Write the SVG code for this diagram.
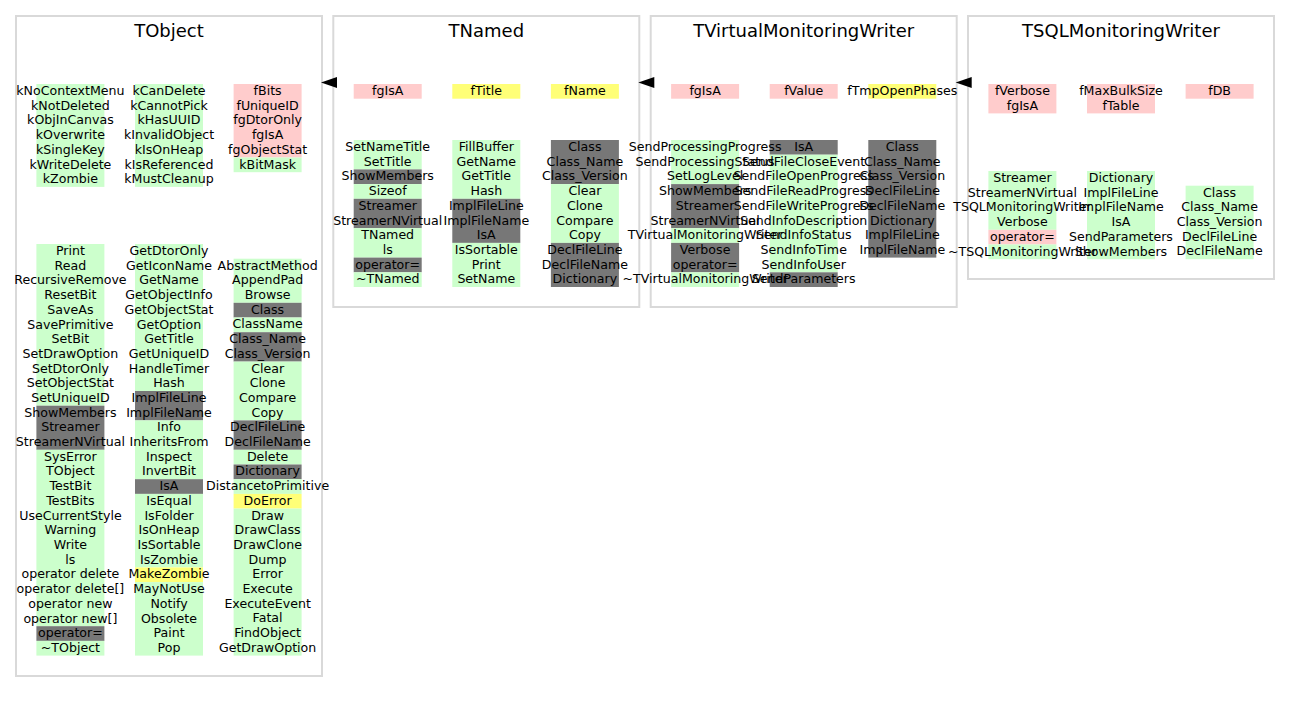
<svg xmlns="http://www.w3.org/2000/svg" width="1291" height="703" viewBox="0 0 1291 703">
<style>
.bg{fill:#ffffff}
.box{fill:#ffffff;stroke:#d9d9d9;stroke-width:2}
.title{font-family:"DejaVu Sans",Verdana,sans-serif;font-size:18px;fill:#000;text-anchor:middle}
.t{font-family:"DejaVu Sans",Verdana,sans-serif;font-size:12.6px;fill:#000;text-anchor:middle}
.g{fill:#ccffcc}
.r{fill:#ffcccc}
.y{fill:#ffff77}
.k{fill:#777777}
.arr{fill:#000}
</style>
<rect class="bg" x="0" y="0" width="1291" height="703"/>

<g id="TObject">
<rect class="box" x="16" y="16" width="306" height="660"/>
<text class="title" x="169" y="37">TObject</text>
<g transform="translate(36.4,84)">
<rect class="g" x="0" y="0" width="68" height="102.9"/>
<text class="t"><tspan x="34" y="11">kNoContextMenu</tspan><tspan x="34" dy="14.7">kNotDeleted</tspan><tspan x="34" dy="14.7">kObjInCanvas</tspan><tspan x="34" dy="14.7">kOverwrite</tspan><tspan x="34" dy="14.7">kSingleKey</tspan><tspan x="34" dy="14.7">kWriteDelete</tspan><tspan x="34" dy="14.7">kZombie</tspan></text>
</g>
<g transform="translate(135,84)">
<rect class="g" x="0" y="0" width="68" height="102.9"/>
<text class="t"><tspan x="34" y="11">kCanDelete</tspan><tspan x="34" dy="14.7">kCannotPick</tspan><tspan x="34" dy="14.7">kHasUUID</tspan><tspan x="34" dy="14.7">kInvalidObject</tspan><tspan x="34" dy="14.7">kIsOnHeap</tspan><tspan x="34" dy="14.7">kIsReferenced</tspan><tspan x="34" dy="14.7">kMustCleanup</tspan></text>
</g>
<g transform="translate(233.6,84)">
<rect class="r" x="0" y="0" width="68" height="73.5"/>
<rect class="g" x="0" y="73.5" width="68" height="14.7"/>
<text class="t"><tspan x="34" y="11">fBits</tspan><tspan x="34" dy="14.7">fUniqueID</tspan><tspan x="34" dy="14.7">fgDtorOnly</tspan><tspan x="34" dy="14.7">fgIsA</tspan><tspan x="34" dy="14.7">fgObjectStat</tspan><tspan x="34" dy="14.7">kBitMask</tspan></text>
</g>
<g transform="translate(36.4,244)">
<rect class="g" x="0" y="0" width="68" height="161.7"/>
<rect class="k" x="0" y="161.7" width="68" height="44.1"/>
<rect class="g" x="0" y="205.8" width="68" height="176.4"/>
<rect class="k" x="0" y="382.2" width="68" height="14.7"/>
<rect class="g" x="0" y="396.9" width="68" height="14.7"/>
<text class="t"><tspan x="34" y="11">Print</tspan><tspan x="34" dy="14.7">Read</tspan><tspan x="34" dy="14.7">RecursiveRemove</tspan><tspan x="34" dy="14.7">ResetBit</tspan><tspan x="34" dy="14.7">SaveAs</tspan><tspan x="34" dy="14.7">SavePrimitive</tspan><tspan x="34" dy="14.7">SetBit</tspan><tspan x="34" dy="14.7">SetDrawOption</tspan><tspan x="34" dy="14.7">SetDtorOnly</tspan><tspan x="34" dy="14.7">SetObjectStat</tspan><tspan x="34" dy="14.7">SetUniqueID</tspan><tspan x="34" dy="14.7">ShowMembers</tspan><tspan x="34" dy="14.7">Streamer</tspan><tspan x="34" dy="14.7">StreamerNVirtual</tspan><tspan x="34" dy="14.7">SysError</tspan><tspan x="34" dy="14.7">TObject</tspan><tspan x="34" dy="14.7">TestBit</tspan><tspan x="34" dy="14.7">TestBits</tspan><tspan x="34" dy="14.7">UseCurrentStyle</tspan><tspan x="34" dy="14.7">Warning</tspan><tspan x="34" dy="14.7">Write</tspan><tspan x="34" dy="14.7">ls</tspan><tspan x="34" dy="14.7">operator delete</tspan><tspan x="34" dy="14.7">operator delete[]</tspan><tspan x="34" dy="14.7">operator new</tspan><tspan x="34" dy="14.7">operator new[]</tspan><tspan x="34" dy="14.7">operator=</tspan><tspan x="34" dy="14.7">~TObject</tspan></text>
</g>
<g transform="translate(135,244)">
<rect class="g" x="0" y="0" width="68" height="147"/>
<rect class="k" x="0" y="147" width="68" height="29.4"/>
<rect class="g" x="0" y="176.4" width="68" height="58.8"/>
<rect class="k" x="0" y="235.2" width="68" height="14.7"/>
<rect class="g" x="0" y="249.9" width="68" height="73.5"/>
<rect class="y" x="0" y="323.4" width="68" height="14.7"/>
<rect class="g" x="0" y="338.1" width="68" height="73.5"/>
<text class="t"><tspan x="34" y="11">GetDtorOnly</tspan><tspan x="34" dy="14.7">GetIconName</tspan><tspan x="34" dy="14.7">GetName</tspan><tspan x="34" dy="14.7">GetObjectInfo</tspan><tspan x="34" dy="14.7">GetObjectStat</tspan><tspan x="34" dy="14.7">GetOption</tspan><tspan x="34" dy="14.7">GetTitle</tspan><tspan x="34" dy="14.7">GetUniqueID</tspan><tspan x="34" dy="14.7">HandleTimer</tspan><tspan x="34" dy="14.7">Hash</tspan><tspan x="34" dy="14.7">ImplFileLine</tspan><tspan x="34" dy="14.7">ImplFileName</tspan><tspan x="34" dy="14.7">Info</tspan><tspan x="34" dy="14.7">InheritsFrom</tspan><tspan x="34" dy="14.7">Inspect</tspan><tspan x="34" dy="14.7">InvertBit</tspan><tspan x="34" dy="14.7">IsA</tspan><tspan x="34" dy="14.7">IsEqual</tspan><tspan x="34" dy="14.7">IsFolder</tspan><tspan x="34" dy="14.7">IsOnHeap</tspan><tspan x="34" dy="14.7">IsSortable</tspan><tspan x="34" dy="14.7">IsZombie</tspan><tspan x="34" dy="14.7">MakeZombie</tspan><tspan x="34" dy="14.7">MayNotUse</tspan><tspan x="34" dy="14.7">Notify</tspan><tspan x="34" dy="14.7">Obsolete</tspan><tspan x="34" dy="14.7">Paint</tspan><tspan x="34" dy="14.7">Pop</tspan></text>
</g>
<g transform="translate(233.6,258.7)">
<rect class="g" x="0" y="0" width="68" height="44.1"/>
<rect class="k" x="0" y="44.1" width="68" height="14.7"/>
<rect class="g" x="0" y="58.8" width="68" height="14.7"/>
<rect class="k" x="0" y="73.5" width="68" height="29.4"/>
<rect class="g" x="0" y="102.9" width="68" height="58.8"/>
<rect class="k" x="0" y="161.7" width="68" height="29.4"/>
<rect class="g" x="0" y="191.1" width="68" height="14.7"/>
<rect class="k" x="0" y="205.8" width="68" height="14.7"/>
<rect class="g" x="0" y="220.5" width="68" height="14.7"/>
<rect class="y" x="0" y="235.2" width="68" height="14.7"/>
<rect class="g" x="0" y="249.9" width="68" height="147"/>
<text class="t"><tspan x="34" y="11">AbstractMethod</tspan><tspan x="34" dy="14.7">AppendPad</tspan><tspan x="34" dy="14.7">Browse</tspan><tspan x="34" dy="14.7">Class</tspan><tspan x="34" dy="14.7">ClassName</tspan><tspan x="34" dy="14.7">Class_Name</tspan><tspan x="34" dy="14.7">Class_Version</tspan><tspan x="34" dy="14.7">Clear</tspan><tspan x="34" dy="14.7">Clone</tspan><tspan x="34" dy="14.7">Compare</tspan><tspan x="34" dy="14.7">Copy</tspan><tspan x="34" dy="14.7">DeclFileLine</tspan><tspan x="34" dy="14.7">DeclFileName</tspan><tspan x="34" dy="14.7">Delete</tspan><tspan x="34" dy="14.7">Dictionary</tspan><tspan x="34" dy="14.7">DistancetoPrimitive</tspan><tspan x="34" dy="14.7">DoError</tspan><tspan x="34" dy="14.7">Draw</tspan><tspan x="34" dy="14.7">DrawClass</tspan><tspan x="34" dy="14.7">DrawClone</tspan><tspan x="34" dy="14.7">Dump</tspan><tspan x="34" dy="14.7">Error</tspan><tspan x="34" dy="14.7">Execute</tspan><tspan x="34" dy="14.7">ExecuteEvent</tspan><tspan x="34" dy="14.7">Fatal</tspan><tspan x="34" dy="14.7">FindObject</tspan><tspan x="34" dy="14.7">GetDrawOption</tspan></text>
</g>
</g>

<g id="TNamed">
<rect class="box" x="333.3" y="16" width="306" height="291"/>
<text class="title" x="486.3" y="37">TNamed</text>
<g transform="translate(353.7,84)">
<rect class="r" x="0" y="0" width="68" height="14.7"/>
<text class="t"><tspan x="34" y="11">fgIsA</tspan></text>
</g>
<g transform="translate(452.3,84)">
<rect class="y" x="0" y="0" width="68" height="14.7"/>
<text class="t"><tspan x="34" y="11">fTitle</tspan></text>
</g>
<g transform="translate(550.9,84)">
<rect class="y" x="0" y="0" width="68" height="14.7"/>
<text class="t"><tspan x="34" y="11">fName</tspan></text>
</g>
<g transform="translate(353.7,140)">
<rect class="g" x="0" y="0" width="68" height="29.4"/>
<rect class="k" x="0" y="29.4" width="68" height="14.7"/>
<rect class="g" x="0" y="44.1" width="68" height="14.7"/>
<rect class="k" x="0" y="58.8" width="68" height="29.4"/>
<rect class="g" x="0" y="88.2" width="68" height="29.4"/>
<rect class="k" x="0" y="117.6" width="68" height="14.7"/>
<rect class="g" x="0" y="132.3" width="68" height="14.7"/>
<text class="t"><tspan x="34" y="11">SetNameTitle</tspan><tspan x="34" dy="14.7">SetTitle</tspan><tspan x="34" dy="14.7">ShowMembers</tspan><tspan x="34" dy="14.7">Sizeof</tspan><tspan x="34" dy="14.7">Streamer</tspan><tspan x="34" dy="14.7">StreamerNVirtual</tspan><tspan x="34" dy="14.7">TNamed</tspan><tspan x="34" dy="14.7">ls</tspan><tspan x="34" dy="14.7">operator=</tspan><tspan x="34" dy="14.7">~TNamed</tspan></text>
</g>
<g transform="translate(452.3,140)">
<rect class="g" x="0" y="0" width="68" height="58.8"/>
<rect class="k" x="0" y="58.8" width="68" height="44.1"/>
<rect class="g" x="0" y="102.9" width="68" height="44.1"/>
<text class="t"><tspan x="34" y="11">FillBuffer</tspan><tspan x="34" dy="14.7">GetName</tspan><tspan x="34" dy="14.7">GetTitle</tspan><tspan x="34" dy="14.7">Hash</tspan><tspan x="34" dy="14.7">ImplFileLine</tspan><tspan x="34" dy="14.7">ImplFileName</tspan><tspan x="34" dy="14.7">IsA</tspan><tspan x="34" dy="14.7">IsSortable</tspan><tspan x="34" dy="14.7">Print</tspan><tspan x="34" dy="14.7">SetName</tspan></text>
</g>
<g transform="translate(550.9,140)">
<rect class="k" x="0" y="0" width="68" height="44.1"/>
<rect class="g" x="0" y="44.1" width="68" height="58.8"/>
<rect class="k" x="0" y="102.9" width="68" height="44.1"/>
<text class="t"><tspan x="34" y="11">Class</tspan><tspan x="34" dy="14.7">Class_Name</tspan><tspan x="34" dy="14.7">Class_Version</tspan><tspan x="34" dy="14.7">Clear</tspan><tspan x="34" dy="14.7">Clone</tspan><tspan x="34" dy="14.7">Compare</tspan><tspan x="34" dy="14.7">Copy</tspan><tspan x="34" dy="14.7">DeclFileLine</tspan><tspan x="34" dy="14.7">DeclFileName</tspan><tspan x="34" dy="14.7">Dictionary</tspan></text>
</g>
</g>

<g id="TVirtualMonitoringWriter">
<rect class="box" x="650.7" y="16" width="306" height="291"/>
<text class="title" x="803.7" y="37">TVirtualMonitoringWriter</text>
<g transform="translate(671.1,84)">
<rect class="r" x="0" y="0" width="68" height="14.7"/>
<text class="t"><tspan x="34" y="11">fgIsA</tspan></text>
</g>
<g transform="translate(769.7,84)">
<rect class="r" x="0" y="0" width="68" height="14.7"/>
<text class="t"><tspan x="34" y="11">fValue</tspan></text>
</g>
<g transform="translate(868.3,84)">
<rect class="y" x="0" y="0" width="68" height="14.7"/>
<text class="t"><tspan x="34" y="11">fTmpOpenPhases</tspan></text>
</g>
<g transform="translate(671.1,140)">
<rect class="g" x="0" y="0" width="68" height="44.1"/>
<rect class="k" x="0" y="44.1" width="68" height="44.1"/>
<rect class="g" x="0" y="88.2" width="68" height="14.7"/>
<rect class="k" x="0" y="102.9" width="68" height="29.4"/>
<rect class="g" x="0" y="132.3" width="68" height="14.7"/>
</g>
<g transform="translate(769.7,140)">
<rect class="k" x="0" y="0" width="68" height="14.7"/>
<rect class="g" x="0" y="14.7" width="68" height="117.6"/>
<rect class="k" x="0" y="132.3" width="68" height="14.7"/>
</g>
<g transform="translate(868.3,140)">
<rect class="k" x="0" y="0" width="68" height="117.6"/>
</g>
<g transform="translate(671.1,140)">
<text class="t"><tspan x="34" y="11">SendProcessingProgress</tspan><tspan x="34" dy="14.7">SendProcessingStatus</tspan><tspan x="34" dy="14.7">SetLogLevel</tspan><tspan x="34" dy="14.7">ShowMembers</tspan><tspan x="34" dy="14.7">Streamer</tspan><tspan x="34" dy="14.7">StreamerNVirtual</tspan><tspan x="34" dy="14.7">TVirtualMonitoringWriter</tspan><tspan x="34" dy="14.7">Verbose</tspan><tspan x="34" dy="14.7">operator=</tspan><tspan x="34" dy="14.7">~TVirtualMonitoringWriter</tspan></text>
</g>
<g transform="translate(769.7,140)">
<text class="t"><tspan x="34" y="11">IsA</tspan><tspan x="34" dy="14.7">SendFileCloseEvent</tspan><tspan x="34" dy="14.7">SendFileOpenProgress</tspan><tspan x="34" dy="14.7">SendFileReadProgress</tspan><tspan x="34" dy="14.7">SendFileWriteProgress</tspan><tspan x="34" dy="14.7">SendInfoDescription</tspan><tspan x="34" dy="14.7">SendInfoStatus</tspan><tspan x="34" dy="14.7">SendInfoTime</tspan><tspan x="34" dy="14.7">SendInfoUser</tspan><tspan x="34" dy="14.7">SendParameters</tspan></text>
</g>
<g transform="translate(868.3,140)">
<text class="t"><tspan x="34" y="11">Class</tspan><tspan x="34" dy="14.7">Class_Name</tspan><tspan x="34" dy="14.7">Class_Version</tspan><tspan x="34" dy="14.7">DeclFileLine</tspan><tspan x="34" dy="14.7">DeclFileName</tspan><tspan x="34" dy="14.7">Dictionary</tspan><tspan x="34" dy="14.7">ImplFileLine</tspan><tspan x="34" dy="14.7">ImplFileName</tspan></text>
</g>
</g>

<g id="TSQLMonitoringWriter">
<rect class="box" x="968" y="16" width="306" height="263"/>
<text class="title" x="1121" y="37">TSQLMonitoringWriter</text>
<g transform="translate(988.4,84)">
<rect class="r" x="0" y="0" width="68" height="29.4"/>
<text class="t"><tspan x="34" y="11">fVerbose</tspan><tspan x="34" dy="14.7">fgIsA</tspan></text>
</g>
<g transform="translate(1087,84)">
<rect class="r" x="0" y="0" width="68" height="29.4"/>
<text class="t"><tspan x="34" y="11">fMaxBulkSize</tspan><tspan x="34" dy="14.7">fTable</tspan></text>
</g>
<g transform="translate(1185.6,84)">
<rect class="r" x="0" y="0" width="68" height="14.7"/>
<text class="t"><tspan x="34" y="11">fDB</tspan></text>
</g>
<g transform="translate(988.4,171)">
<rect class="g" x="0" y="0" width="68" height="58.8"/>
<rect class="r" x="0" y="58.8" width="68" height="14.7"/>
<rect class="g" x="0" y="73.5" width="68" height="14.7"/>
</g>
<g transform="translate(1087,171)">
<rect class="g" x="0" y="0" width="68" height="88.2"/>
</g>
<g transform="translate(1185.6,185.7)">
<rect class="g" x="0" y="0" width="68" height="73.5"/>
<text class="t"><tspan x="34" y="11">Class</tspan><tspan x="34" dy="14.7">Class_Name</tspan><tspan x="34" dy="14.7">Class_Version</tspan><tspan x="34" dy="14.7">DeclFileLine</tspan><tspan x="34" dy="14.7">DeclFileName</tspan></text>
</g>
<g transform="translate(988.4,171)">
<text class="t"><tspan x="34" y="11">Streamer</tspan><tspan x="34" dy="14.7">StreamerNVirtual</tspan><tspan x="34" dy="14.7">TSQLMonitoringWriter</tspan><tspan x="34" dy="14.7">Verbose</tspan><tspan x="34" dy="14.7">operator=</tspan><tspan x="34" dy="14.7">~TSQLMonitoringWriter</tspan></text>
</g>
<g transform="translate(1087,171)">
<text class="t"><tspan x="34" y="11">Dictionary</tspan><tspan x="34" dy="14.7">ImplFileLine</tspan><tspan x="34" dy="14.7">ImplFileName</tspan><tspan x="34" dy="14.7">IsA</tspan><tspan x="34" dy="14.7">SendParameters</tspan><tspan x="34" dy="14.7">ShowMembers</tspan></text>
</g>
</g>

<g id="connectors">
<polygon class="arr" points="321,82.5 337,77 337,88"/>
<polygon class="arr" points="638.3,82.5 654.3,77 654.3,88"/>
<polygon class="arr" points="955.7,82.5 971.7,77 971.7,88"/>
</g>
</svg>
